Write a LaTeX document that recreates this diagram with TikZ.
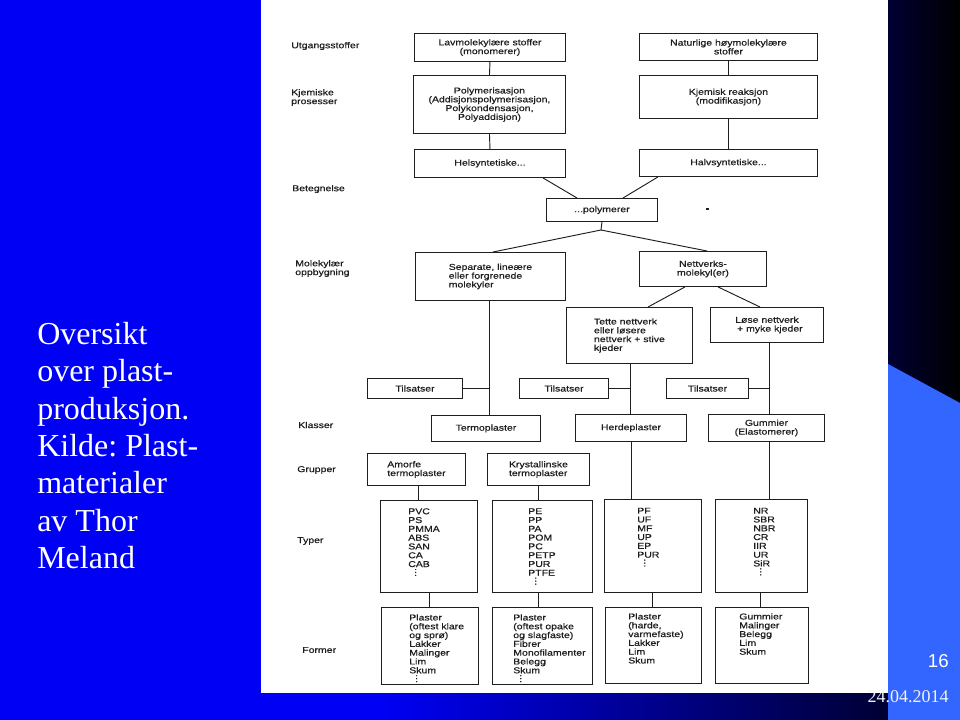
\documentclass[tikz,border=0pt]{standalone}
\usepackage{fontspec}
\usepackage{tikz}
\setmainfont{Liberation Serif}
\newfontfamily\schemefont[FakeStretch=1.23,FakeBold=0.5]{Liberation Sans}
\newfontfamily\numfont{Liberation Sans}
\newcommand\schemetext{\schemefont\fontsize{6.4}{6.6}\selectfont}
\newcommand\vdts{\vbox{\baselineskip=2.2pt\lineskiplimit=-10pt\hbox{.}\hbox{.}\hbox{.}}}
\definecolor{slideblue}{HTML}{0000F5}
\definecolor{sideblue}{HTML}{3366FF}
\definecolor{navydark}{HTML}{000033}
\definecolor{ink}{HTML}{1E1E1E}
\frenchspacing

\begin{document}
\begin{tikzpicture}[x=0.75pt,y=-0.75pt,
  box/.style={draw=ink,line width=0.7pt,inner sep=0pt,anchor=north west,align=center,font=\schemetext,text=ink},
  sz/.style 2 args={minimum width=#1*0.75pt,minimum height=#2*0.75pt},
  lst/.style={anchor=north west,inner sep=0pt,align=left,font=\schemetext,text=ink},
  lbl/.style={anchor=west,inner sep=0pt,align=left,font=\schemetext,text=ink},
  link/.style={draw=ink,line width=0.7pt}
]
\useasboundingbox (0,0) rectangle (960,720);
\fill[slideblue] (0,0) rectangle (960,720);
\shade[left color=slideblue,right color=navydark] (380,693) rectangle (888,720);
\shade[left color=navydark,right color=black] (888,0) -- (960,0) -- (960,403) -- (888,364) -- cycle;
\fill[sideblue] (888,364) -- (960,403) -- (960,720) -- (888,720) -- cycle;
\fill[white] (261,0) rectangle (888,693);

\node[anchor=north west,inner sep=0pt,align=left,text=white,font=\fontsize{24}{28}\selectfont] (title) at (37,322)
  {Oversikt\\over plast-\\produksjon.\\Kilde: Plast-\\materialer\\av Thor\\Meland};
\node[anchor=base east,inner sep=0pt,text=white,font=\numfont\fontsize{14}{16}\selectfont] (page) at (949,667) {16};
\node[anchor=base east,inner sep=0pt,text=white!90!gray,font=\fontsize{13.5}{16}\selectfont] (date) at (949,702) {24.04.2014};

\node[lbl] (l1) at (291,46) {Utgangsstoffer};
\node[lbl] (l2) at (291,97.5) {Kjemiske\\prosesser};
\node[lbl] (l3) at (292,189) {Betegnelse};
\node[lbl] (l4) at (295,268.5) {Molekylær\\oppbygning};
\node[lbl] (l5) at (298,425) {Klasser};
\node[lbl] (l6) at (297,470) {Grupper};
\node[lbl] (l7) at (297,541) {Typer};
\node[lbl] (l8) at (302,650) {Former};

\node[box,sz={151}{28}] (lav) at (414,33) {Lavmolekylære stoffer\\(monomerer)};
\node[box,sz={178}{27}] (nat) at (639,33) {Naturlige høymolekylære\\stoffer};
\node[box,sz={152}{58}] (poly) at (413,75) {Polymerisasjon\\(Addisjonspolymerisasjon,\\Polykondensasjon,\\Polyaddisjon)};
\node[box,sz={178}{43}] (kjem) at (639,75) {Kjemisk reaksjon\\(modifikasjon)};
\node[box,sz={151}{28}] (hel) at (414,149) {Helsyntetiske...};
\node[box,sz={178}{27}] (halv) at (639,149) {Halvsyntetiske...};
\node[box,sz={111}{23}] (pol) at (546,198) {...polymerer};
\node[box,sz={150}{48},align=left] (sep) at (415,252) {Separate, lineære\\eller forgrenede\\molekyler};
\node[box,sz={127}{35}] (net) at (639,251) {Nettverks-\\molekyl(er)};
\node[box,sz={126}{56},align=left] (tette) at (566,307) {Tette nettverk\\eller løsere\\nettverk + stive\\kjeder};
\node[box,sz={113}{35}] (lose) at (710,307) {Løse nettverk\\\ \ + myke kjeder};
\node[box,sz={95}{20}] (tils1) at (367,378) {Tilsatser};
\node[box,sz={89}{20}] (tils2) at (519,378) {Tilsatser};
\node[box,sz={82}{20}] (tils3) at (666,378) {Tilsatser};
\node[box,sz={109}{26}] (termo) at (431,415) {Termoplaster};
\node[box,sz={111}{27}] (herde) at (575,414) {Herdeplaster};
\node[box,sz={116}{27}] (gummi) at (708,414) {Gummier\\(Elastomerer)};
\node[box,sz={98}{32},align=left] (amorf) at (367,453) {Amorfe\\termoplaster};
\node[box,sz={102}{32},align=left] (kryst) at (487,453) {Krystallinske\\termoplaster};
\node[box,sz={97}{92}] (pvc) at (380,500) {};
\node[box,sz={100}{92}] (pe) at (492,500) {};
\node[box,sz={97}{93}] (pf) at (604,499) {};
\node[box,sz={92}{93}] (nr) at (715,499) {};
\node[box,sz={97}{77}] (f1) at (381,607) {};
\node[box,sz={100}{77}] (f2) at (492,607) {};
\node[box,sz={96}{76}] (f3) at (605,607) {};
\node[box,sz={93}{76}] (f4) at (715,607) {};

\node[lst] (pvc-t) at (408,508) {PVC\\PS\\PMMA\\ABS\\SAN\\CA\\CAB\\\hspace*{4.5pt}\vdts};
\node[lst] (pe-t) at (528,508) {PE\\PP\\PA\\POM\\PC\\PETP\\PUR\\PTFE\\\hspace*{4.5pt}\vdts};
\node[lst] (pf-t) at (637,507.5) {PF\\UF\\MF\\UP\\EP\\PUR\\\hspace*{4.5pt}\vdts};
\node[lst] (nr-t) at (753,507.5) {NR\\SBR\\NBR\\CR\\IIR\\UR\\SiR\\\hspace*{4.5pt}\vdts};
\node[lst] (f1-t) at (409,614) {Plaster\\(oftest klare\\og sprø)\\Lakker\\Malinger\\Lim\\Skum\\\hspace*{4.5pt}\vdts};
\node[lst] (f2-t) at (513,614) {Plaster\\(oftest opake\\og slagfaste)\\Fibrer\\Monofilamenter\\Belegg\\Skum\\\hspace*{4.5pt}\vdts};
\node[lst] (f3-t) at (628,613) {Plaster\\(harde,\\varmefaste)\\Lakker\\Lim\\Skum};
\node[lst] (f4-t) at (739,613) {Gummier\\Malinger\\Belegg\\Lim\\Skum};

\draw[link] (lav.south) -- (poly.north);
\draw[link] (nat.south) -- (kjem.north);
\draw[link] (poly.south) -- (hel.north);
\draw[link] (kjem.south) -- (halv.north);
\draw[link] (hel.south -| 543,0) -- (pol.north -| 577,0);
\draw[link] (halv.south -| 658,0) -- (pol.north -| 623,0);
\coordinate (split) at (601,230);
\draw[link] (pol.south) -- (split);
\draw[link] (split) -- (sep.north -| 493,0);
\draw[link] (split) -- (net.north -| 707,0);
\draw[link] (sep.south -| 489,0) -- (termo.north -| 489,0);
\draw[link] (tils1.east) -- (tils1.east -| 489,0);
\draw[link] (net.south -| 685,0) -- (tette.north -| 648,0);
\draw[link] (net.south -| 718,0) -- (lose.north -| 760,0);
\draw[link] (tette.south -| 630,0) -- (herde.north -| 630,0);
\draw[link] (tils2.east) -- (tils2.east -| 630,0);
\draw[link] (lose.south -| 769,0) -- (gummi.north -| 769,0);
\draw[link] (tils3.east) -- (tils3.east -| 769,0);
\draw[link] (amorf.south -| 418,0) -- (pvc.north -| 418,0);
\draw[link] (kryst.south -| 538,0) -- (pe.north -| 538,0);
\draw[link] (herde.south -| 631,0) -- (pf.north -| 631,0);
\draw[link] (gummi.south -| 769,0) -- (nr.north -| 769,0);
\draw[link] (pvc.south -| 429,0) -- (f1.north -| 429,0);
\draw[link] (pe.south -| 538,0) -- (f2.north -| 538,0);
\draw[link] (pf.south -| 652,0) -- (f3.north -| 652,0);
\draw[link] (nr.south -| 760,0) -- (f4.north -| 760,0);
\fill[ink] (706,208) rectangle (709,210);
\end{tikzpicture}
\end{document}
